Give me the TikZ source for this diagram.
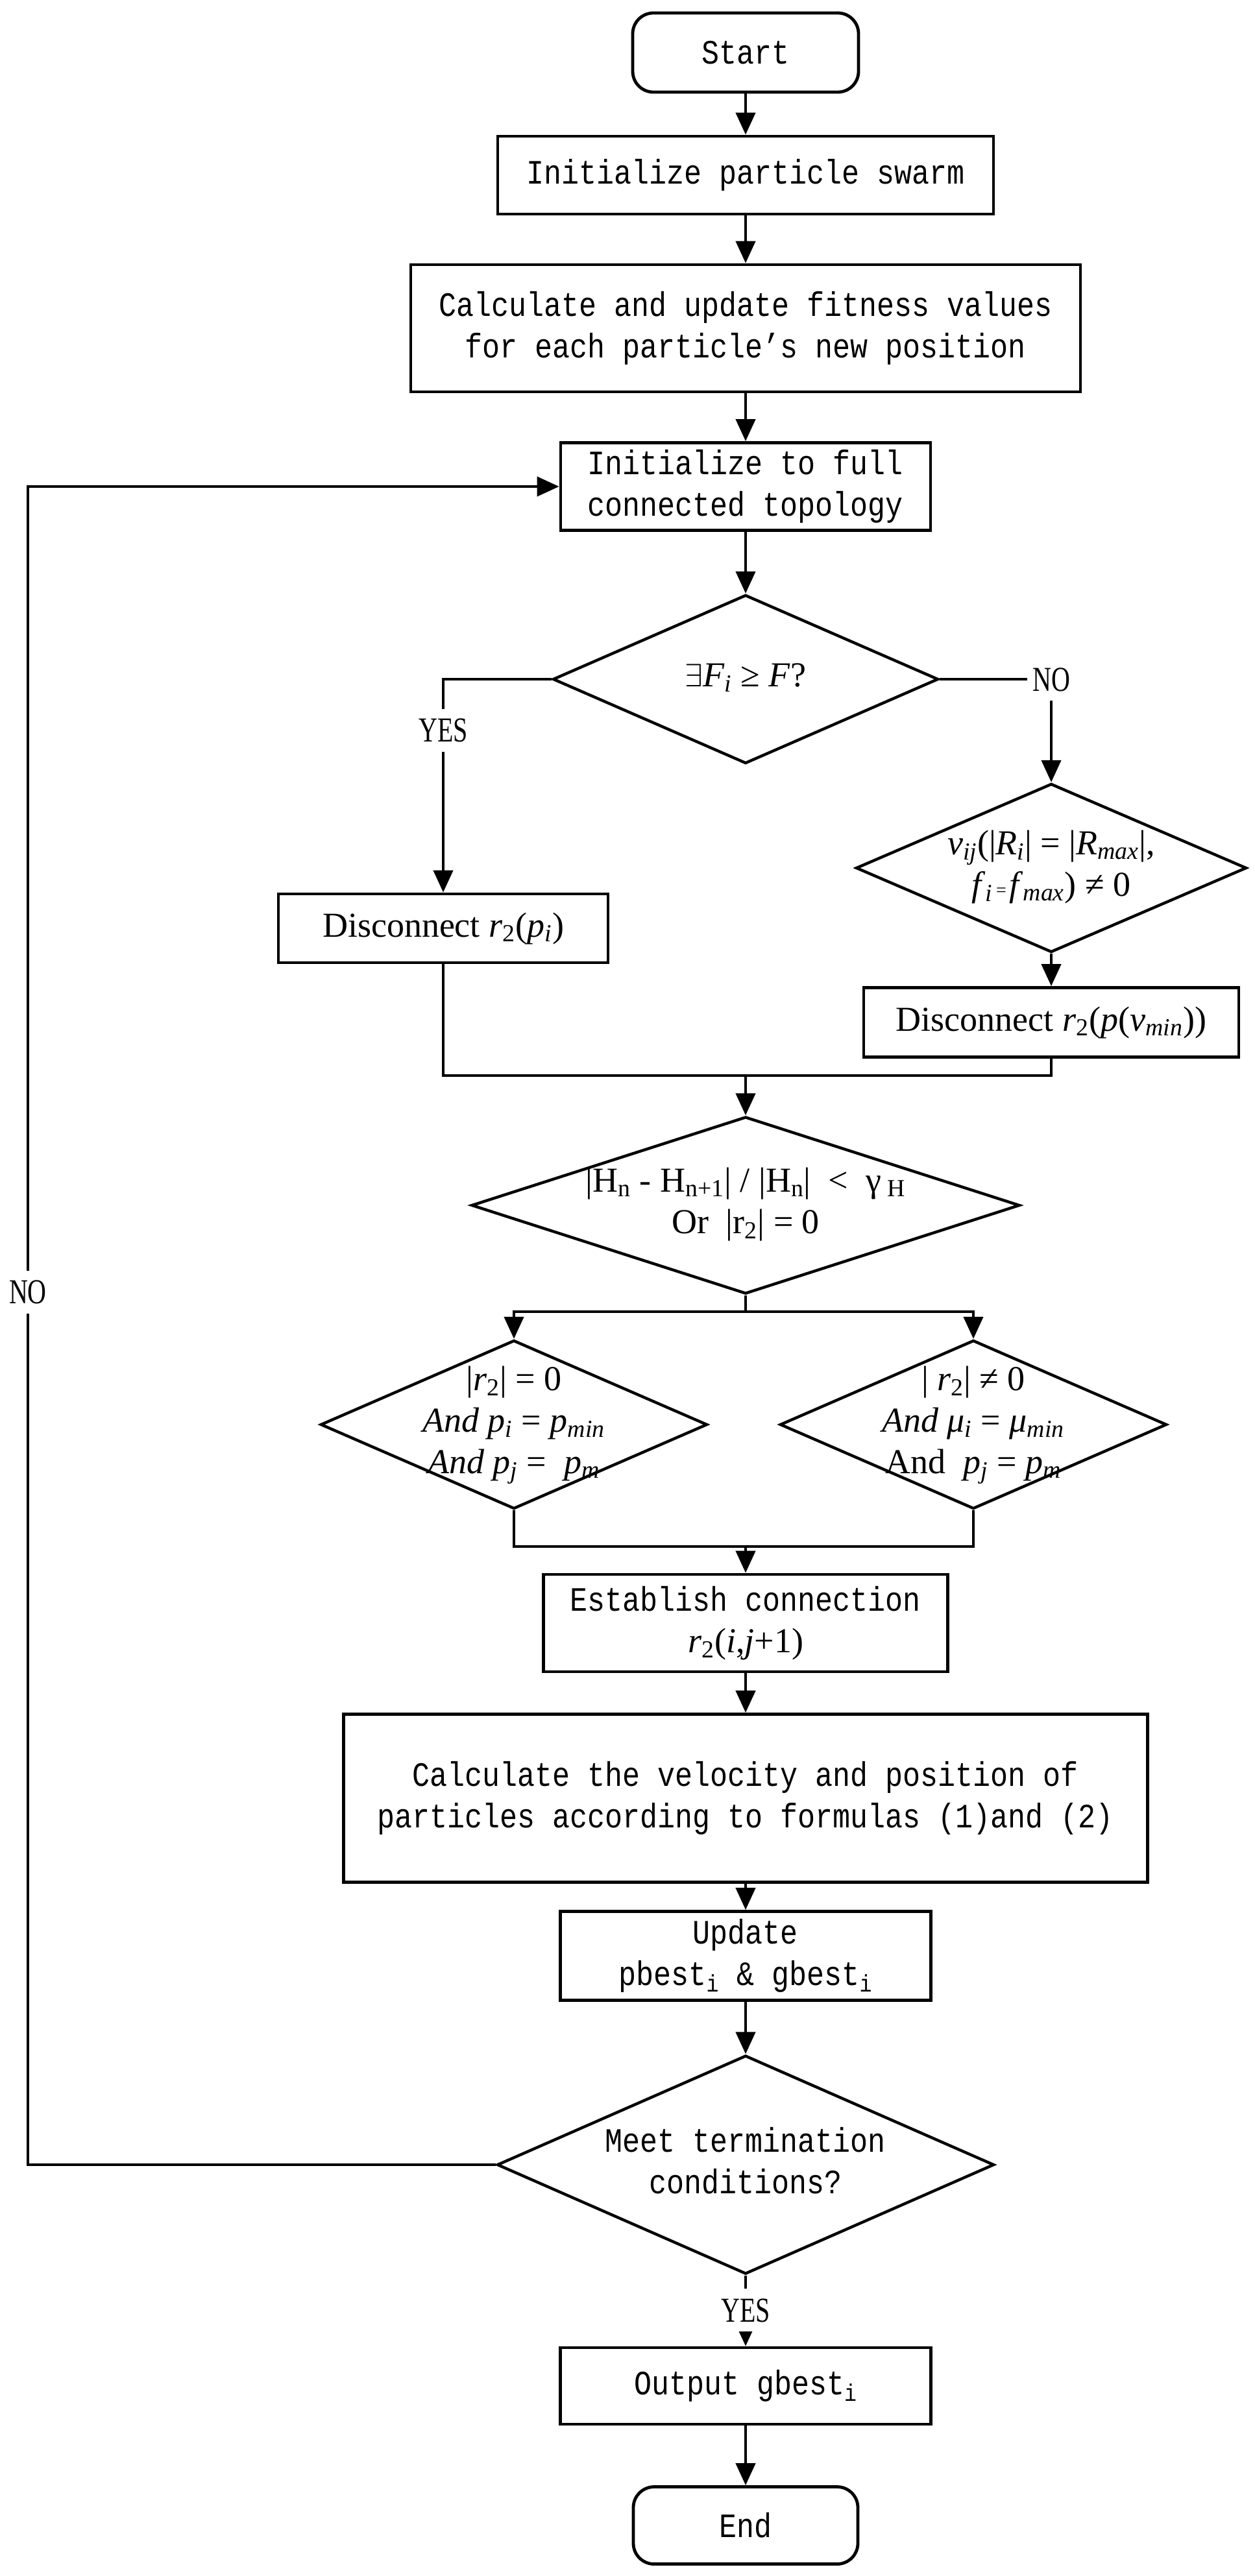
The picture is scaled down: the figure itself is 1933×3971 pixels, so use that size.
\documentclass[tikz,border=0pt]{standalone}
\usepackage{fontspec}
\setmainfont{Liberation Serif}
\newfontfamily\monofont{Liberation Mono}
\usetikzlibrary{arrows.meta,shapes.geometric}
\newcommand{\mono}{\monofont\fontsize{22.5}{32}\selectfont}
\newcommand{\ser}{\rmfamily\fontsize{27}{32}\selectfont}
\newcommand{\vs}[1]{\scalebox{1}[1.17]{#1}}
\newcommand{\cx}[2][0.82]{\scalebox{#1}[1]{#2}}
\newcommand{\dtext}[2][32pt]{\makebox[0pt]{\raisebox{\dimexpr-0.25em-4pt\relax}{\smash{\def\arraystretch{1}\setlength{\baselineskip}{#1}\begin{tabular}{@{}c@{}}#2\end{tabular}}}}}
\newcommand{\ti}[1]{\textit{#1}}
\newcommand{\sub}[1]{\textsubscript{#1}}
\tikzset{
  line/.style={line width=2.2pt},
  box/.style={draw, line width=2.4pt, rectangle, inner sep=0pt, align=center, font=\mono},
  term/.style={box, rounded corners=16pt},
  dec/.style={draw, line width=2.2pt, diamond, inner sep=0pt, shape aspect=1},
  arr/.style={line, -{Triangle[length=17pt,width=15pt]}},
  lab/.style={fill=white, inner xsep=4pt, inner ysep=7.5pt, text height=18pt, text depth=0pt, font=\ser}
}
\begin{document}
\begin{tikzpicture}[x=0.5pt,y=-0.5pt]
\useasboundingbox (0,0) rectangle (1933,3971);
% nodes
\node[term, minimum width=174pt, minimum height=61pt] (start) at (1149,81) {\vs{Start}};
\node[box, minimum width=382pt, minimum height=60pt] (swarm) at (1149,270) {\vs{Initialize particle swarm}};
\node[box, minimum width=516pt, minimum height=98pt] (calc) at (1149,506) {\vs{Calculate and update fitness values}\\\vs{for each particle’s new position}};
\node[box, minimum width=285pt, minimum height=67.5pt] (initfull) at (1149,750) {\vs{Initialize to full}\\\vs{connected topology}};
\node[dec, minimum width=297pt, minimum height=130pt, font=\ser] (d1) at (1149,1047) {\dtext{$\exists$\ti{F}\sub{\ti{i}} ≥ \ti{F}?}};
\node[dec, minimum width=301pt, minimum height=130pt, font=\ser] (d2) at (1620,1338) {\dtext[30pt]{\ti{v}\sub{\ti{ij}}(|\ti{R}\sub{\ti{i}}| = |\ti{R}\sub{\ti{max}}|,\\ \ti{f}\sub{\ti{i}}{\fontsize{14}{14}\selectfont\,=\,}\ti{f}\sub{\ti{max}}) ≠ 0}};
\node[box, minimum width=254pt, minimum height=53pt, font=\ser] (disc1) at (683,1431) {Disconnect \ti{r}\sub{2}(\ti{p}\sub{\ti{i}})};
\node[box, minimum width=289pt, minimum height=53.5pt, font=\ser] (disc2) at (1620,1576) {Disconnect \ti{r}\sub{2}(\ti{p}(\ti{v}\sub{\ti{min}}))};
\node[dec, minimum width=422.5pt, minimum height=136.5pt, font=\ser] (d3) at (1149,1858) {\dtext{|H\sub{n} - H\sub{n+1}| / |H\sub{n}|\ \ <\ \ γ\,\sub{H}\\ Or\ \ |r\sub{2}| = 0}};
\node[dec, minimum width=298pt, minimum height=130pt, font=\ser] (d4) at (792,2196) {\dtext[36pt]{|\ti{r}\sub{2}| = 0\\ \ti{And p}\sub{\ti{i}} = \ti{p}\sub{\ti{min}}\\ \ti{And p}\sub{\ti{j}} = \ \ti{p}\sub{\ti{m}}}};
\node[dec, minimum width=298pt, minimum height=130pt, font=\ser] (d5) at (1500,2196) {\dtext[36pt]{|\ \ti{r}\sub{2}| ≠ 0\\ \ti{And μ}\sub{\ti{i}} = \ti{μ}\sub{\ti{min}}\\ And\ \ \ti{p}\sub{\ti{j}} = \ti{p}\sub{\ti{m}}}};
\node[box, minimum width=311.5pt, minimum height=75pt] (est) at (1149,2502) {\vs{Establish connection}\\{\ser\ti{r}\sub{2}(\ti{i},\ti{j}+1)}};
\node[box, minimum width=619.5pt, minimum height=129.5pt] (vel) at (1149,2772) {\vs{Calculate the velocity and position of}\\\vs{particles according to formulas (1)and (2)}};
\node[box, minimum width=285.5pt, minimum height=68.5pt] (upd) at (1149,3015) {\vs{Update}\\\vs{pbest\sub{i} \& gbest\sub{i}}};
\node[dec, minimum width=383pt, minimum height=168.5pt, font=\mono] (d6) at (1149,3337) {\dtext{\vs{Meet termination}\\\vs{conditions?}}};
\node[box, minimum width=285.5pt, minimum height=59pt] (out) at (1149,3678) {\vs{Output gbest\sub{i}}};
\node[term, minimum width=173pt, minimum height=59.5pt] (end) at (1149,3893) {\vs{End}};
% helper coordinates
\coordinate (mL) at (683,1658);
\coordinate (mR) at (1620,1658);
\coordinate (mC) at (1149,1658);
\coordinate (s) at (1149,2022);
\coordinate (jL) at (792,2384);
\coordinate (jR) at (1500,2384);
\coordinate (jC) at (1149,2384);
\coordinate (lb) at (43,3337);
\coordinate (lt) at (43,750);
% connectors
\draw[arr] (start) -- (swarm);
\draw[arr] (swarm) -- (calc);
\draw[arr] (calc) -- (initfull);
\draw[arr] (initfull) -- (d1);
\draw[arr] (d1.west) -| node[lab, pos=0.62] {\cx[0.74]{YES}} (disc1.north);
\draw[arr] (d1.east) -| node[lab, pos=0.5] {\cx[0.74]{NO}} (d2.north);
\draw[arr] (d2) -- (disc2);
\draw[line] (disc1.south) -- (mL) -- (mR) -- (disc2.south);
\draw[arr] (mC) -- (d3.north);
\draw[line] (d3.south) -- (s);
\draw[arr] (s) -| (d4.north);
\draw[arr] (s) -| (d5.north);
\draw[line] (d4.south) -- (jL) -- (jR) -- (d5.south);
\draw[arr] (jC) -- (est.north);
\draw[arr] (est) -- (vel);
\draw[arr] (vel) -- (upd);
\draw[arr] (upd) -- (d6);
\draw[arr] (d6.south) -- node[lab, pos=0.49] {\cx[0.74]{YES}} (out.north);
\draw[arr] (out) -- (end);
\draw[arr] (d6.west) -- (lb) -- node[lab, pos=0.52] {\cx[0.74]{NO}} (lt) -- (initfull.west);
\end{tikzpicture}
\end{document}
